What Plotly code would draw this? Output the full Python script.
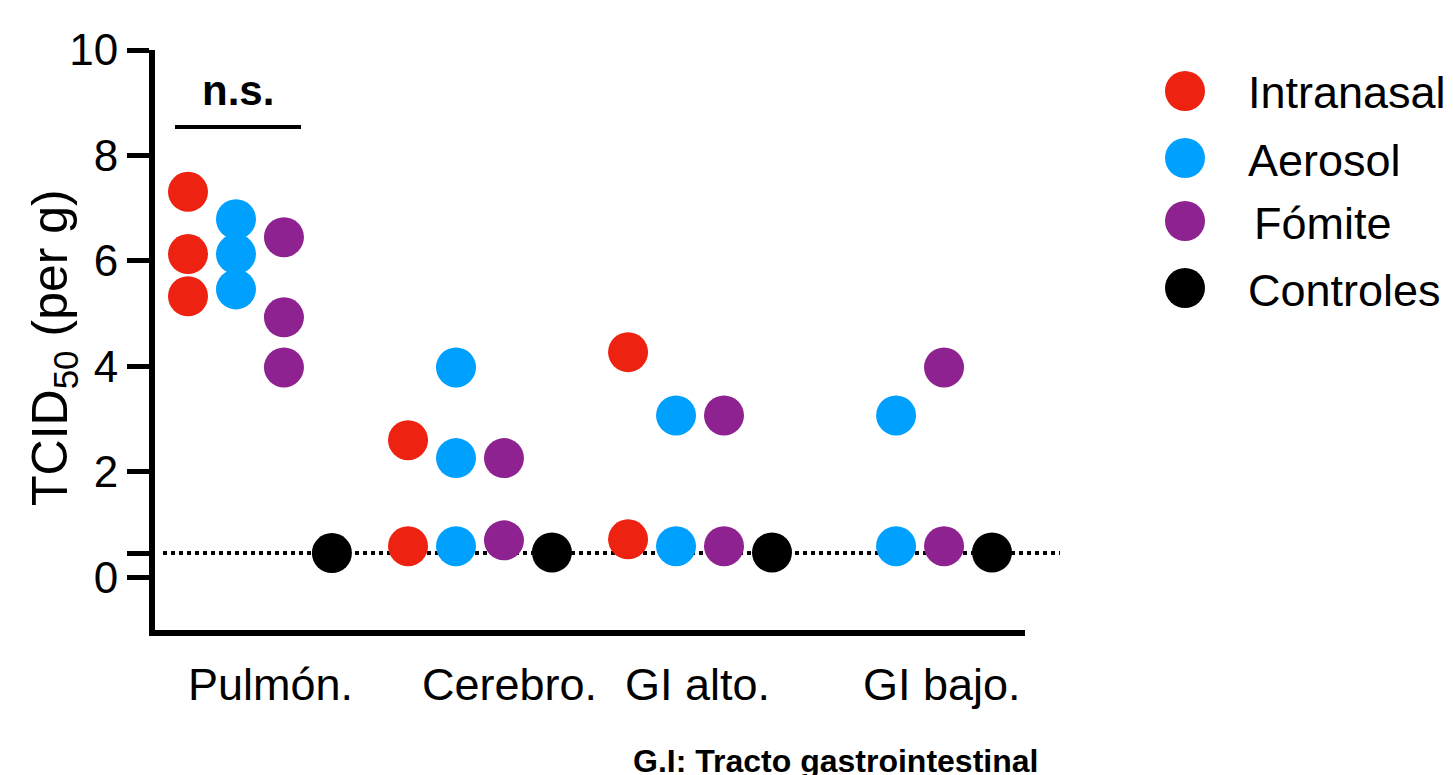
import plotly.graph_objects as go

# ---------------- data ----------------
categories = ["Pulmón.", "Cerebro.", "GI alto.", "GI bajo."]
series_names = ["Intranasal", "Aerosol", "Fómite", "Controles"]
series_colors = ["#EE2211", "#00A0FF", "#8E2290", "#000000"]

# values per category (TCID50 per g, as plotted)
intranasal = [[7.31, 6.13, 5.33], [2.60, 0.59], [4.27, 0.72], []]
aerosol = [[6.79, 6.13, 5.46], [3.98, 2.26, 0.59], [3.07, 0.59], [3.07, 0.59]]
fomite = [[6.45, 4.93, 3.98], [2.26, 0.70], [3.07, 0.59], [3.98, 0.59]]
controles = [[0.46], [0.47], [0.47], [0.47]]

detection_limit = 0.46
y_ticks = [0, 2, 4, 6, 8, 10]
footnote = "G.I: Tracto gastrointestinal"

all_series = [intranasal, aerosol, fomite, controles]

# ---------------- layout helpers ----------------
OFF = 8  # page body margin
W, H = 1454 - OFF, 775 - OFF
FONT = "Liberation Sans, Arial, Helvetica, sans-serif"
step = 0.218  # spacing between series within a group (group spacing = 1)


def px_x(p):
    return (p - OFF) / W


def px_y(p):
    return 1 - (p - OFF) / H


fig = go.Figure()

for s_idx, (name, color, data) in enumerate(zip(series_names, series_colors, all_series)):
    xs, ys = [], []
    for c_idx, vals in enumerate(data):
        for v in vals:
            xs.append(c_idx + (s_idx - 1.5) * step)
            ys.append(v)
    fig.add_trace(go.Scatter(
        x=xs, y=ys, mode="markers", name=name, showlegend=False,
        marker=dict(size=40, color=color, line=dict(width=0)),
        cliponaxis=False,
    ))

shapes = []
annotations = []

# detection limit dotted line
shapes.append(dict(type="line", xref="paper", yref="y",
                   x0=px_x(163), x1=px_x(1060), y0=detection_limit, y1=detection_limit,
                   line=dict(color="black", width=4, dash="4px,4px"), layer="below"))

# n.s. bracket
shapes.append(dict(type="line", xref="paper", yref="paper",
                   x0=px_x(175), x1=px_x(301), y0=px_y(127), y1=px_y(127),
                   line=dict(color="black", width=4)))
annotations.append(dict(text="<b>n.s.</b>", xref="paper", yref="paper",
                        x=px_x(238), y=px_y(90), xanchor="center", yanchor="middle",
                        showarrow=False, font=dict(family=FONT, size=42, color="black")))

# category labels
label_px = [270, 509, 697, 942]
for cat, lx in zip(categories, label_px):
    annotations.append(dict(text=cat, xref="paper", yref="paper",
                            x=px_x(lx), y=px_y(684), xanchor="center", yanchor="middle",
                            showarrow=False, font=dict(family=FONT, size=45, color="black")))

# y-axis title
annotations.append(dict(text="TCID<sub>50</sub> (per g)", xref="paper", yref="paper",
                        x=px_x(53), y=px_y(348), xanchor="center", yanchor="middle",
                        textangle=-90, showarrow=False,
                        font=dict(family=FONT, size=50, color="black")))

# legend (manual, large markers)
leg_y = [91, 158, 221, 288]
for name, color, ly in zip(series_names, series_colors, leg_y):
    shapes.append(dict(type="circle", xref="paper", yref="paper",
                       xsizemode="pixel", ysizemode="pixel",
                       xanchor=px_x(1185), yanchor=px_y(ly),
                       x0=-20, x1=20, y0=-20, y1=20,
                       fillcolor=color, line=dict(width=0)))
    annotations.append(dict(text=name, xref="paper", yref="paper",
                            x=px_x(1246 if name != "Fómite" else 1252), y=px_y(ly + 2),
                            xanchor="left", yanchor="middle", showarrow=False,
                            font=dict(family=FONT, size=45, color="black")))

# footnote
annotations.append(dict(text="<b>" + footnote + "</b>", xref="paper", yref="paper",
                        x=px_x(835), y=px_y(741), xanchor="center", yanchor="top",
                        showarrow=False, font=dict(family=FONT, size=32, color="black")))

fig.update_layout(
    width=W, height=H,
    margin=dict(l=0, r=0, t=0, b=0, autoexpand=False),
    paper_bgcolor="white", plot_bgcolor="white",
    xaxis=dict(domain=[px_x(155), px_x(1025)], range=[-0.477, 3.477],
               showgrid=False, zeroline=False, showticklabels=False, ticks="",
               showline=True, linecolor="black", linewidth=6, fixedrange=True),
    yaxis=dict(domain=[px_y(630), px_y(50)], range=[-1, 10],
               tickvals=[0, detection_limit] + y_ticks[1:],
               ticktext=["0", ""] + [str(t) for t in y_ticks[1:]],
               ticks="outside", ticklen=22, tickwidth=5, tickcolor="black",
               tickfont=dict(family=FONT, size=44, color="black"),
               showgrid=False, zeroline=False,
               showline=True, linecolor="black", linewidth=6, fixedrange=True),
    shapes=shapes, annotations=annotations,
    showlegend=False,
)

fig.write_html("out.html")
